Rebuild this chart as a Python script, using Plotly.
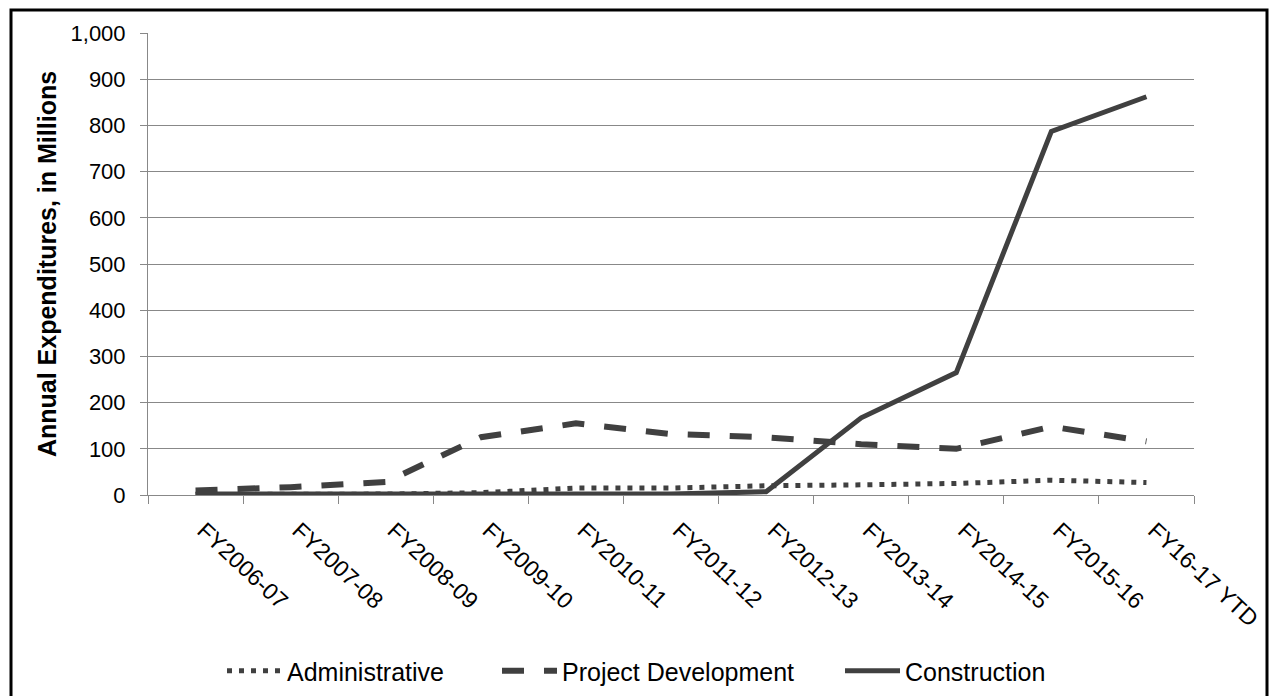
import plotly.graph_objects as go

categories = ["FY2006-07", "FY2007-08", "FY2008-09", "FY2009-10", "FY2010-11",
              "FY2011-12", "FY2012-13", "FY2013-14", "FY2014-15", "FY2015-16",
              "FY16-17 YTD"]
administrative = [1, 1, 2, 5, 15, 15, 20, 22, 25, 32, 27]
project_development = [10, 17, 28, 125, 155, 132, 125, 110, 100, 148, 116]
construction = [2, 2, 2, 3, 3, 2, 7, 167, 265, 787, 862]

y_ticks = list(range(0, 1001, 100))

line_color = "#404040"
font_family = "Liberation Sans, Arial, sans-serif"

fig = go.Figure()
fig.add_trace(go.Scatter(x=categories, y=administrative, name="Administrative",
                         mode="lines", legend="legend",
                         line=dict(color=line_color, width=5, dash="5px,7px")))
fig.add_trace(go.Scatter(x=categories, y=project_development, name="Project Development",
                         mode="lines", legend="legend2",
                         line=dict(color=line_color, width=6, dash="22px,20px")))
fig.add_trace(go.Scatter(x=categories, y=construction, name="Construction",
                         mode="lines", legend="legend3",
                         line=dict(color=line_color, width=5)))

W, H = 1269, 696
L, T = 148, 33
pw, ph = 1046, 462
R = W - L - pw
B = H - T - ph
plot_bottom = T + ph


def leg(page_x):
    return dict(orientation="h", xref="container", yref="container",
                x=page_x / W, xanchor="left",
                y=(H - 671) / H, yanchor="middle",
                font=dict(size=25), itemwidth=55, bgcolor="rgba(0,0,0,0)",
                borderwidth=0)


fig.update_layout(
    width=W, height=H,
    margin=dict(l=L, r=R, t=T, b=B, autoexpand=False),
    paper_bgcolor="white", plot_bgcolor="white",
    font=dict(family=font_family, size=22, color="black"),
    showlegend=True,
    legend=leg(222),
    legend2=leg(497),
    legend3=leg(840),
    xaxis=dict(type="category", showgrid=False, showline=True, linecolor="#888888",
               linewidth=1, ticks="outside", tickson="boundaries", ticklen=8,
               tickcolor="#888888", tickangle=43, tickfont=dict(size=23),
               ticklabelstandoff=12, ticklabelshift=8,
               range=[-0.5, len(categories) - 0.5]),
    yaxis=dict(range=[0, 1000], tickvals=y_ticks, tickformat=",", showgrid=True,
               gridcolor="#888888", gridwidth=1, showline=True, linecolor="#888888",
               ticks="outside", ticklen=7, tickcolor="#888888", zeroline=False,
               tickfont=dict(size=22), ticklabelstandoff=10,
               title=dict(text="<b>Annual Expenditures, in Millions</b>",
                          font=dict(size=25), standoff=6)),
    shapes=[dict(type="rect", xref="paper", yref="paper",
                 x0=(11 - L) / pw, x1=(1267 - L) / pw,
                 y0=(plot_bottom - 702) / ph, y1=(plot_bottom - 10) / ph,
                 line=dict(color="black", width=3), fillcolor="rgba(0,0,0,0)",
                 layer="below")],
)

fig.write_html("out.html",
               config={"displayModeBar": False},
               post_script="document.body.style.margin='0';"
                           "document.body.style.overflow='hidden';")
